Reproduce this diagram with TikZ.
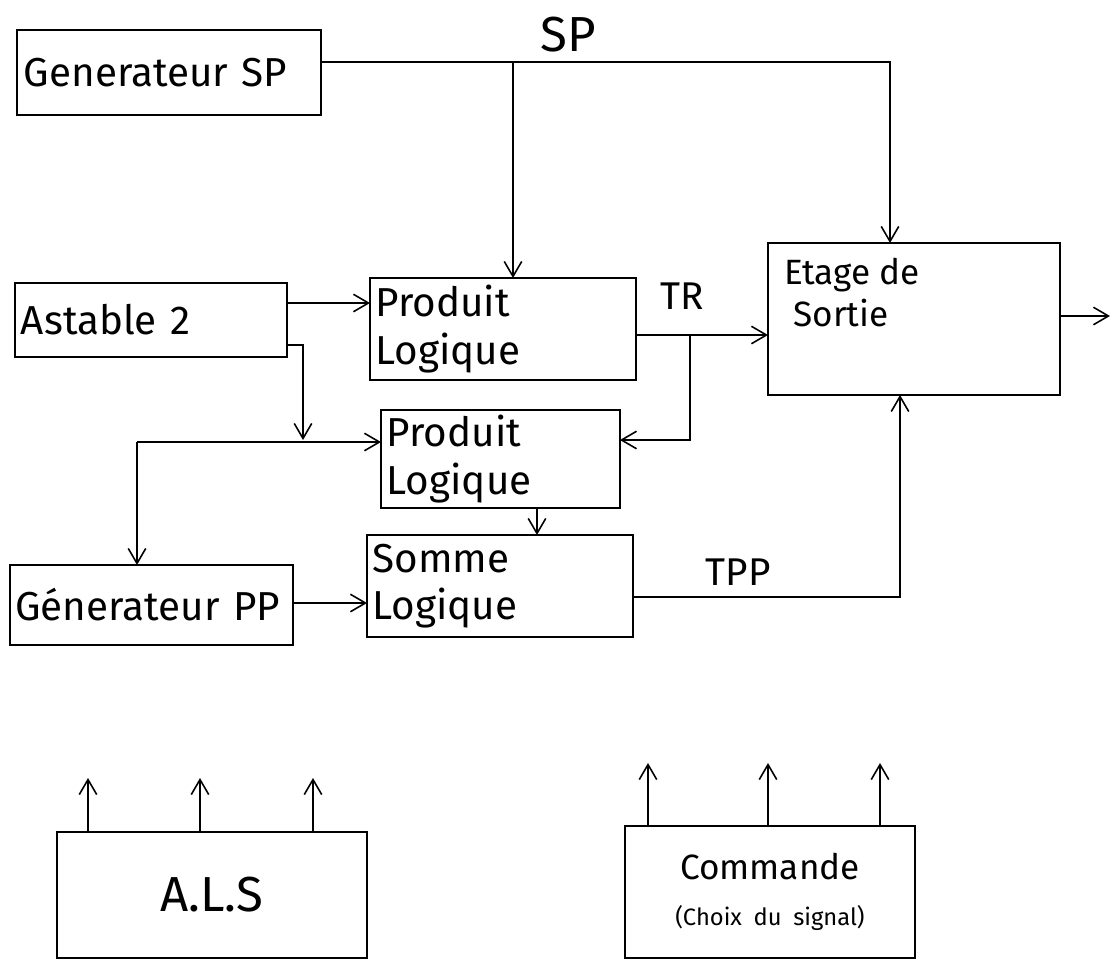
\documentclass[tikz,border=0pt]{standalone}
\usepackage{fontspec}
\setmainfont{Fira Sans}
\usetikzlibrary{arrows.meta}
\begin{document}
\begin{tikzpicture}[x=0.02cm,y=-0.02cm,
  box/.style={draw, line width=1.2pt, anchor=north west, outer sep=0pt, inner sep=3pt, align=left, font=\fontsize{23}{27}\selectfont},
  lbl/.style={font=\fontsize{22}{26}\selectfont},
  conn/.style={line width=0.9pt},
  arr/.style={conn, -{Straight Barb[length=3mm,width=3.5mm]}}]
\useasboundingbox (0,0) rectangle (1119,961);
% boxes
\node[box, minimum width=6.08cm, minimum height=1.70cm, text width=5.8cm] (gsp) at (17,30) {Generateur SP};
\node[box, minimum width=5.44cm, minimum height=1.48cm, text width=5.2cm] (ast) at (15,283) {Astable 2};
\node[box, minimum width=5.32cm, minimum height=2.04cm, text width=5.1cm] (pl1) at (370,278) {Produit\\Logique};
\node[box, minimum width=4.78cm, minimum height=1.90cm, text width=4.55cm] (pl2) at (381,410) {Produit\\Logique};
\node[box, minimum width=5.32cm, minimum height=2.04cm, text width=5.1cm] (som) at (367,535) {Somme\\Logique};
\node[box, minimum width=5.66cm, minimum height=1.60cm, text width=5.45cm] (gpp) at (10,565) {Génerateur PP};
\node[box, minimum width=5.84cm, minimum height=3.04cm] (etage) at (768,243) {};
\node[anchor=north west, align=left, font=\fontsize{20}{24}\selectfont] (etagetxt) at (778,252) {Etage de\\\ Sortie};
\node[box, minimum width=6.2cm, minimum height=2.52cm, text width=5.8cm, align=center, font=\fontsize{28}{32}\selectfont] (als) at (57,832) {A.L.S};
\node[box, minimum width=5.8cm, minimum height=2.64cm, text width=5.5cm, align=center, font=\fontsize{20}{24}\selectfont] (cmd) at (625,826) {Commande\\[2pt]\fontsize{13.5}{16}\selectfont (Choix du signal)};
% labels
\node[lbl, font=\fontsize{28}{32}\selectfont] (splbl) at (568,35) {SP};
\node[lbl] (trlbl) at (682,296) {TR};
\node[lbl] (tpplbl) at (738,572) {TPP};
% coordinates
\coordinate (spj) at (513,62);
\coordinate (spe) at (890,62);
\coordinate (a1) at (330,303);
\coordinate (a2) at (303,345);
\coordinate (j2) at (303,440);
\coordinate (j3) at (137,442);
\coordinate (tr) at (690,335);
\coordinate (tr2) at (690,440);
\coordinate (pc) at (537,520);
\coordinate (g1) at (330,603);
\coordinate (tpp) at (900,597);
\coordinate (out) at (1110,316);
\coordinate (al1) at (88,778);
\coordinate (al2) at (200,778);
\coordinate (al3) at (313,778);
\coordinate (cm1) at (648,763);
\coordinate (cm2) at (768,763);
\coordinate (cm3) at (880,763);
% connectors
\draw[arr] (spj -| gsp.east) -- (spe) -- (spe |- etage.north);
\draw[arr] (spj) -- (spj |- pl1.north);
\draw[arr] (a1 -| ast.east) -- (a1 -| pl1.west);
\draw[arr] (a2 -| ast.east) -- (a2) -- (j2);
\draw[arr] (j3) -- (j3 -| pl2.west);
\draw[arr] (j3) -- (j3 |- gpp.north);
\draw[arr] (tr -| pl1.east) -- (tr -| etage.west);
\draw[arr] (tr) -- (tr2) -- (tr2 -| pl2.east);
\draw[arr] (pc |- pl2.south) -- (pc |- som.north);
\draw[arr] (g1 -| gpp.east) -- (g1 -| som.west);
\draw[arr] (tpp -| som.east) -- (tpp) -- (tpp |- etage.south);
\draw[arr] (out -| etage.east) -- (out);
\draw[arr] (al1 |- als.north) -- (al1);
\draw[arr] (al2 |- als.north) -- (al2);
\draw[arr] (al3 |- als.north) -- (al3);
\draw[arr] (cm1 |- cmd.north) -- (cm1);
\draw[arr] (cm2 |- cmd.north) -- (cm2);
\draw[arr] (cm3 |- cmd.north) -- (cm3);
\end{tikzpicture}
\end{document}
